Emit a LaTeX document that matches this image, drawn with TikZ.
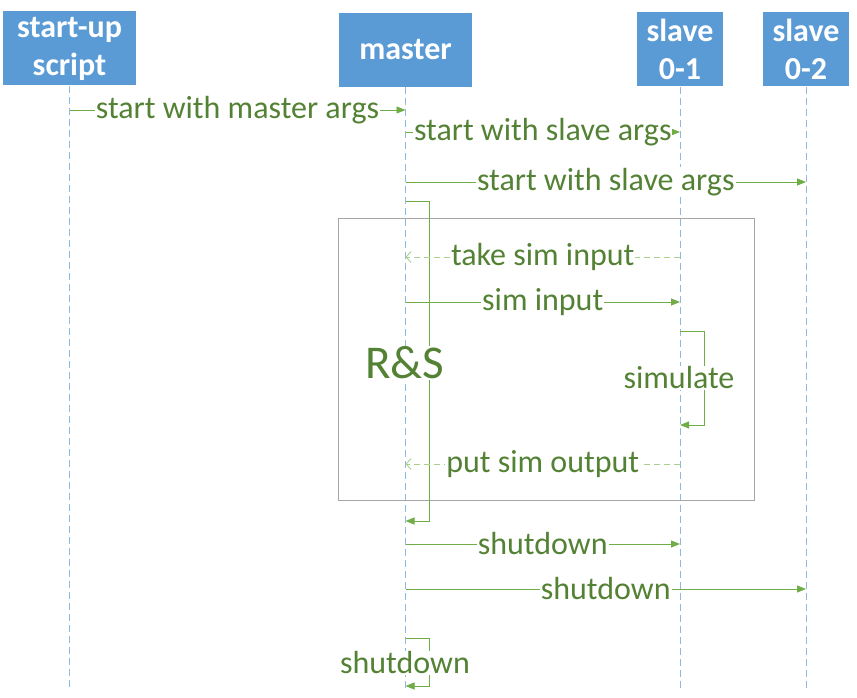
\documentclass[tikz,border=0pt]{standalone}
\usepackage{fontspec}
\setmainfont{Carlito}
\usepackage{tikz}
\usetikzlibrary{arrows.meta, positioning}
\definecolor{hdrblue}{HTML}{5B9BD5}
\definecolor{lifeblue}{HTML}{8FB9E2}
\definecolor{msggreen}{HTML}{70AD47}
\definecolor{txtgreen}{HTML}{548235}
\definecolor{retgreen}{HTML}{A9D18E}
\definecolor{framegray}{HTML}{A6A6A6}

\begin{document}
\begin{tikzpicture}[x=1pt, y=-1pt,
  actor/.style={fill=hdrblue, text=white, font=\fontsize{32}{38}\selectfont\bfseries,
    align=center, minimum height=74pt, inner sep=0pt},
  lifeline/.style={lifeblue, line width=0.9pt, dash pattern=on 7pt off 4pt},
  msg/.style={msggreen, line width=0.9pt, -{Triangle[length=9pt,width=7pt]}},
  reply/.style={retgreen, line width=0.9pt, dash pattern=on 6pt off 4pt,
    -{Straight Barb[length=5pt,width=11pt]}},
  lbl/.style={fill=white, text=txtgreen, font=\fontsize{32}{38}\selectfont, inner sep=1pt}]

  \useasboundingbox (0,0) rectangle (857,698);

  % Actors
  \node[actor, minimum width=133pt] (script) at (69.5,48.5) {start-up\\script};
  \node[actor, minimum width=133pt] (master) at (405.5,50) {master};
  \node[actor, minimum width=86pt] (slave01) at (680,49.5) {slave\\0-1};
  \node[actor, minimum width=86pt] (slave02) at (806,49.5) {slave\\0-2};

  % Lifelines
  \foreach \a in {script, master, slave01, slave02} {
    \draw[lifeline] (\a.south) -- (\a.south |- 0,690);
  }

  % Loop frame
  \draw[framegray, line width=0.8pt] (338,218) rectangle (754,500);

  % Start-up
  \draw[msg] (script |- 0,110) -- node[lbl] (startmaster) {start with master args} (master |- 0,110);
  \draw[msg] (master |- 0,132) -- node[lbl] (startslaveA) {start with slave args} (slave01 |- 0,132);
  \draw[msg] (master |- 0,182) -- node[lbl] (startslaveB) {start with slave args} (slave02 |- 0,182);

  % R&S loop
  \draw[msg] (master |- 0,201) -- ++(24,0) |- (master |- 0,521);
  \node[lbl, font=\fontsize{47}{50}\selectfont] (rs) at (405,363) {R\&S};

  % Simulation round
  \draw[reply] (slave01 |- 0,257) -- node[lbl] (takeinput) {take sim input} (master |- 0,257);
  \draw[msg] (master |- 0,302) -- node[lbl] (siminput) {sim input} (slave01 |- 0,302);
  \draw[msg] (slave01 |- 0,331) -- ++(24,0) |- (slave01 |- 0,425);
  \node[lbl] (simulate) at (679,378) {simulate};
  \draw[reply] (slave01 |- 0,464) -- node[lbl] (putoutput) {put sim output} (master |- 0,464);

  % Shutdown
  \draw[msg] (master |- 0,544) -- node[lbl] (stopA) {shutdown} (slave01 |- 0,544);
  \draw[msg] (master |- 0,589) -- node[lbl] (stopB) {shutdown} (slave02 |- 0,589);
  \draw[msg] (master |- 0,638) -- ++(24,0) |- (master |- 0,686);
  \node[lbl] (stopself) at (405,663) {shutdown};
\end{tikzpicture}
\end{document}
